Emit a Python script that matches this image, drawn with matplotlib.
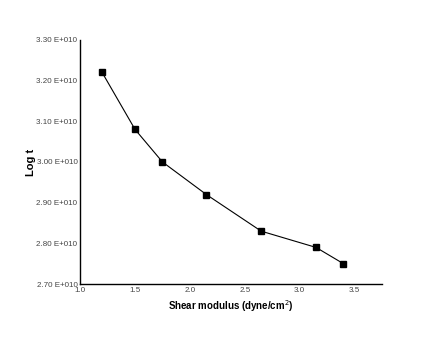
import matplotlib
matplotlib.use("Agg")
import matplotlib.pyplot as plt

plt.rcParams["font.family"] = ["Liberation Sans", "DejaVu Sans"]

shear = [1.2, 1.5, 1.75, 2.15, 2.65, 3.15, 3.4]
logt = [3.22e10, 3.08e10, 3.00e10, 2.92e10, 2.83e10, 2.79e10, 2.75e10]
yticks = [2.70e10, 2.80e10, 2.90e10, 3.00e10, 3.10e10, 3.20e10, 3.30e10]
ytick_labels = ["2.70 E+010", "2.80 E+010", "2.90 E+010", "3.00 E+010",
                "3.10 E+010", "3.20 E+010", "3.30 E+010"]
xticks = [1.0, 1.5, 2.0, 2.5, 3.0, 3.5]
xtick_labels = ["1.0", "1.5", "2.0", "2.5", "3.0", "3.5"]

fig = plt.figure(figsize=(4.43, 3.41), dpi=100)
ax = fig.add_axes([0.181, 0.167, 0.681, 0.716])
ax.plot(shear, logt, color="black", lw=0.8, marker="s", ms=4,
        markerfacecolor="black", markeredgecolor="black")
ax.set_xlim(1.0, 3.75)
ax.set_ylim(2.70e10, 3.30e10)
ax.set_yticks(yticks)
ax.set_yticklabels(ytick_labels)
ax.set_xticks(xticks)
ax.set_xticklabels(xtick_labels)
ax.tick_params(axis="both", length=0, labelsize=5.8, labelcolor="#444444", pad=2)
ax.spines["top"].set_visible(False)
ax.spines["right"].set_visible(False)
ax.spines["left"].set_linewidth(1.0)
ax.spines["bottom"].set_linewidth(1.0)
ax.set_xlabel("Shear modulus (dyne/cm$^{2}$)", fontsize=7, fontweight="bold", labelpad=3)
ax.set_ylabel("Log t", fontsize=8, fontweight="bold", labelpad=0)
fig.savefig("out.png", dpi=100)
